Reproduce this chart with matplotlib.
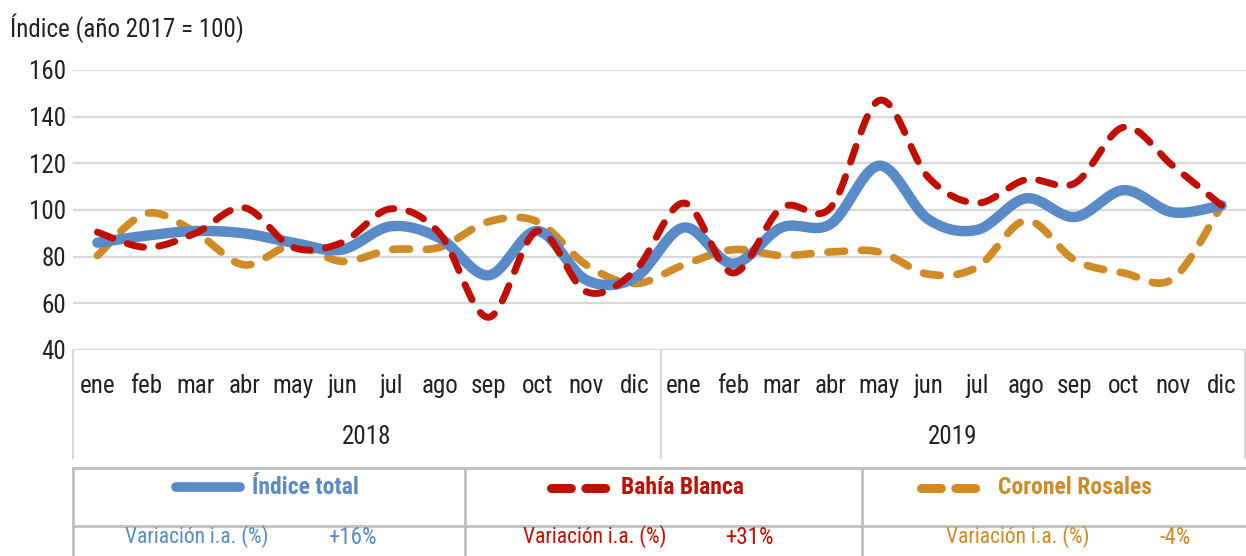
import matplotlib
matplotlib.use('Agg')
import matplotlib.pyplot as plt
from matplotlib import font_manager
import numpy as np

names = {f.name for f in font_manager.fontManager.ttflist}
if 'Roboto Condensed' in names:
    plt.rcParams['font.family'] = ['Roboto Condensed', 'DejaVu Sans']
else:
    plt.rcParams['font.family'] = ['DejaVu Sans']
    plt.rcParams['font.stretch'] = 'condensed'

# data
meses = ['ene', 'feb', 'mar', 'abr', 'may', 'jun', 'jul', 'ago', 'sep', 'oct', 'nov', 'dic']
anios = ['2018', '2019']
indice_total = [86, 89, 91, 90, 86, 83, 93, 88, 72, 91, 70, 71,
                92.5, 77, 92.5, 94, 119, 96, 91.5, 105, 97, 108.5, 99, 102]
bahia_blanca = [90.5, 84, 90, 101, 84, 86, 100.5, 90, 54, 91, 65, 74,
                103, 73, 101, 101, 147, 114, 103, 113, 111.5, 135.5, 119, 102]
coronel_rosales = [80.5, 98.5, 90.5, 76.5, 85, 78, 83, 84, 95, 95, 76.5, 68.5,
                   76.5, 83, 80.5, 82, 82, 72.5, 75.5, 95.5, 78.5, 73, 70.5, 102]
series_names = ['Índice total', 'Bahía Blanca', 'Coronel Rosales']
variacion = ['+16%', '+31%', '-4%']

colores = ['#5a8bc9', '#c00f00', '#d08a26']


def smooth(y, n=24):
    # Excel-like smoothed line (Bezier through the points)
    y = np.asarray(y, dtype=float)
    x = np.arange(len(y), dtype=float)
    xs, ys = [], []
    t = np.linspace(0, 1, n)
    for i in range(len(y) - 1):
        i0 = max(i - 1, 0)
        i3 = min(i + 2, len(y) - 1)
        for arr, out in ((x, xs), (y, ys)):
            p0, p1, p2, p3 = arr[i0], arr[i], arr[i + 1], arr[i3]
            c1 = p1 + (p2 - p0) / 6
            c2 = p2 - (p3 - p1) / 6
            b = ((1 - t) ** 3 * p1 + 3 * (1 - t) ** 2 * t * c1
                 + 3 * (1 - t) * t ** 2 * c2 + t ** 3 * p2)
            out.extend(b if i == 0 else b[1:])
    return np.array(xs), np.array(ys)


W, H = 1246, 556
fig = plt.figure(figsize=(W / 100, H / 100), dpi=100)

left, right, top, bottom = 73, 1246, 70, 350
ax = fig.add_axes([left / W, 1 - bottom / H, (right - left) / W, (bottom - top) / H])
ax.set_xlim(-0.5, 23.5)
ax.set_ylim(40, 160)
ax.set_yticks(range(40, 161, 20))
ax.grid(axis='y', color='#d9d9d9', lw=1.6)
ax.set_axisbelow(True)
for s in ax.spines.values():
    s.set_visible(False)
ax.tick_params(axis='y', length=0, labelsize=18, colors='#222222', pad=5)
ax.set_xticks(range(24))
ax.set_xticklabels(meses * 2)
ax.tick_params(axis='x', length=0, labelsize=18, colors='#222222', pad=17)

for k, a in enumerate(anios):
    ax.text(5.5 + 12 * k, -0.31, a, transform=ax.get_xaxis_transform(),
            ha='center', va='center', fontsize=18, color='#222222')

xs, ys = smooth(indice_total)
ax.plot(xs, ys, color=colores[0], lw=7.5, solid_capstyle='round', zorder=3)
xs, ys = smooth(bahia_blanca)
ax.plot(xs, ys, color=colores[1], lw=5, dashes=(2.4, 2.2), dash_capstyle='round', zorder=4)
xs, ys = smooth(coronel_rosales)
ax.plot(xs, ys, color=colores[2], lw=5.5, dashes=(2.2, 2.2), dash_capstyle='round', zorder=2)

# overlay for category box and legend table (pixel coordinates)
ov = fig.add_axes([0, 0, 1, 1])
ov.set_xlim(0, W)
ov.set_ylim(H, 0)
ov.axis('off')
ov.patch.set_alpha(0)

box_c = '#d9d9d9'
for xv in (73, 661, 1245):
    ov.plot([xv, xv], [350, 458], color=box_c, lw=1.5)

tab_c = '#c0c0c0'
ov.plot([73, 1260], [468, 468], color=tab_c, lw=2)
ov.plot([73, 1260], [526, 526], color=tab_c, lw=2)
for xv in (73, 465, 862):
    ov.plot([xv, xv], [468, 560], color=tab_c, lw=2)

ov.text(10, 28, 'Índice (año 2017 = 100)', fontsize=18, color='#222222',
        ha='left', va='center')

sample_x = [(176, 240), (551, 607), (921, 977)]
label_x = [252, 621, 998]
var_x = [125, 523, 946]
pct_x = [328, 725, 1160]
for i in range(3):
    x0, x1 = sample_x[i]
    if i == 0:
        ov.plot([x0, x1], [487, 487], color=colores[i], lw=7, solid_capstyle='round')
    else:
        ov.plot([x0, x1], [488, 488], color=colores[i], lw=6.5,
                dashes=(2.2, 1.6), dash_capstyle='round')
    ov.text(label_x[i], 487, series_names[i], fontsize=17, fontweight='bold',
            color=colores[i], ha='left', va='center')
    ov.text(var_x[i], 537, 'Variación i.a. (%)', fontsize=15.5,
            color=colores[i], ha='left', va='center')
    ov.text(pct_x[i], 537, variacion[i], fontsize=16.5,
            color=colores[i], ha='left', va='center')

fig.savefig('out.png', dpi=100)
